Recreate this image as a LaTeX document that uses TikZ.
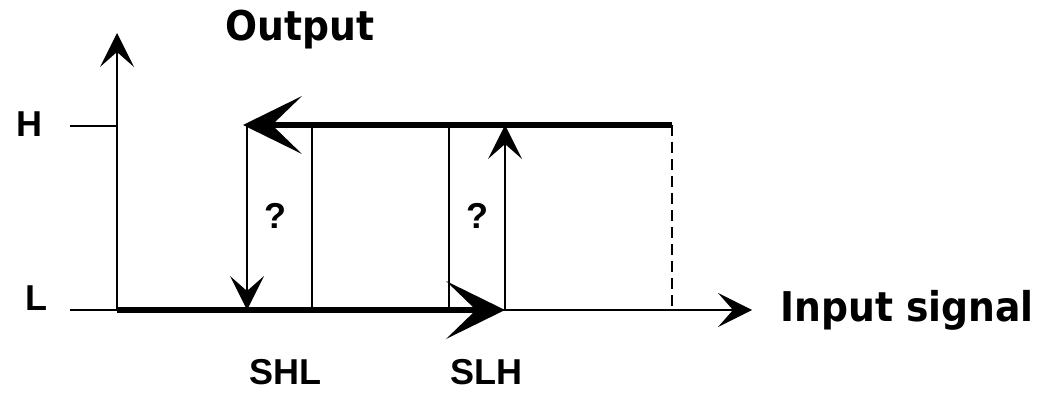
\documentclass[tikz,border=0pt]{standalone}
\usepackage{fontspec}
\setmainfont{Liberation Sans}
\newfontfamily\titlefont{DejaVu Sans}
\usetikzlibrary{arrows.meta}

\begin{document}
\begin{tikzpicture}[x=1pt,y=-1pt,
  thinline/.style={line width=1.8pt},
  thickline/.style={line width=5.5pt},
  bigtip/.style={-{Stealth[length=59pt,width=58pt,inset=30pt,line width=0pt]}},
  smalltip/.style={-{Stealth[length=34pt,width=34pt,inset=15pt,line width=0pt]}},
  axistitle/.style={font=\titlefont\bfseries\fontsize{41}{41}\selectfont, inner sep=0pt, anchor=base},
  levellabel/.style={font=\bfseries\fontsize{36}{36}\selectfont, inner sep=0pt, anchor=base}]

\useasboundingbox (0,0) rectangle (1054,398);

% key points of the hysteresis loop
\coordinate (origin) at (117,310);
\coordinate (ytop)   at (117,33);
\coordinate (xend)   at (752,310);
\coordinate (htick)  at (70,126);
\coordinate (hax)    at (117,126);
\coordinate (ltick)  at (70,310);
\coordinate (hlhigh) at (247,125);
\coordinate (hllow)  at (247,310);
\coordinate (topend) at (243,125);
\coordinate (aa)     at (312,125);
\coordinate (ab)     at (312,310);
\coordinate (ba)     at (449,125);
\coordinate (bb)     at (449,310);
\coordinate (lhlow)  at (505,310);
\coordinate (lhhigh) at (505,125);
\coordinate (rhigh)  at (672,125);
\coordinate (rlow)   at (672,310);

% axes and level ticks
\draw[thinline, smalltip] (origin) -- (ytop);
\draw[thinline, smalltip] (ltick) -- (xend);
\draw[thinline] (htick) -- (hax);

% vertical guide lines
\draw[thinline] (aa) -- (ab);
\draw[thinline] (ba) -- (bb);
\draw[thinline, dash pattern=on 11pt off 6pt] (rhigh) -- (rlow);

% switching transitions
\draw[thinline, smalltip] (hlhigh) -- (hllow);
\draw[thinline, smalltip] (lhlow) -- (lhhigh);

% thick branches of the loop
\draw[thickline, bigtip] (origin) -- (lhlow);
\draw[thickline, bigtip] (rhigh) -- (topend);

% labels
\node[axistitle] (out) at (300,41) {\scalebox{0.92}[1]{Output}};
\node[axistitle] (in)  at (907,321) {\scalebox{0.92}[1]{Input signal}};
\node[levellabel] (hl) at (29,137) {H};
\node[levellabel] (ll) at (36,310) {L};
\node[levellabel] (shl) at (285,384) {SHL};
\node[levellabel] (slh) at (486,384) {SLH};
\node[levellabel] (q1) at (275,228) {?};
\node[levellabel] (q2) at (477.5,228) {?};
\end{tikzpicture}
\end{document}
